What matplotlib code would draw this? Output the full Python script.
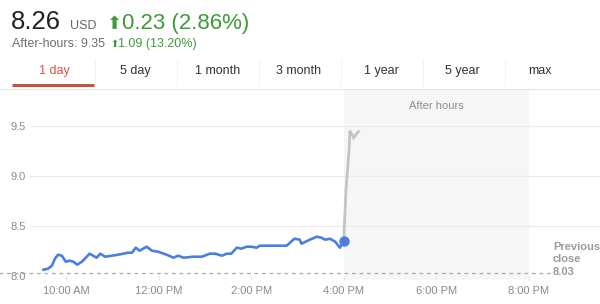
#!/usr/bin/env python3
# -*- coding: utf-8 -*-

import matplotlib as mpl
mpl.use("Agg")
from matplotlib import pyplot as plt

plt.rcParams["font.family"] = ["Liberation Sans", "DejaVu Sans"]

# - data
# regular session (clock time, price)
day_times = [
    "09:30", "09:36", "09:41", "09:45", "09:49", "09:54", "09:59", "10:04",
    "10:09", "10:14", "10:20", "10:30", "10:39", "10:44", "10:50", "10:59",
    "11:07", "11:20", "11:25", "11:30", "11:35", "11:44", "11:51", "11:59",
    "12:10", "12:19", "12:25", "12:32", "12:45", "12:56", "13:06", "13:13",
    "13:22", "13:28", "13:34", "13:41", "13:47", "13:54", "14:00", "14:07",
    "14:11", "14:46", "14:56", "15:03", "15:05", "15:16", "15:25", "15:31",
    "15:36", "15:42", "15:49", "15:55", "16:00",
]
day_prices = [
    8.06, 8.07, 8.10, 8.17, 8.21, 8.20, 8.14, 8.15,
    8.14, 8.11, 8.14, 8.22, 8.18, 8.22, 8.19, 8.20,
    8.21, 8.23, 8.23, 8.28, 8.25, 8.29, 8.25, 8.24,
    8.21, 8.18, 8.20, 8.18, 8.19, 8.19, 8.22, 8.22,
    8.20, 8.22, 8.22, 8.28, 8.27, 8.29, 8.29, 8.28,
    8.30, 8.30, 8.37, 8.36, 8.32, 8.36, 8.39, 8.38,
    8.36, 8.37, 8.34, 8.28, 8.35,
]
# after-hours trading
ah_times = ["16:00", "16:03", "16:07", "16:08", "16:13", "16:19"]
ah_prices = [8.35, 8.86, 9.26, 9.45, 9.38, 9.44]

prev_close = 8.03
y_ticks = [8.0, 8.5, 9.0, 9.5]
x_ticks = [10, 12, 14, 16, 18, 20]
x_labels = ["10:00 AM", "12:00 PM", "2:00 PM", "4:00 PM", "6:00 PM", "8:00 PM"]
tabs = ["1 day", "5 day", "1 month", "3 month", "1 year", "5 year", "max"]

price, unit = "8.26", "USD"
change = "0.23 (2.86%)"
ah_label = "After-hours: 9.35"
ah_change = "1.09 (13.20%)"


def to_hours(times):
    return [int(t[:2]) + int(t[3:]) / 60 for t in times]


W, H = 600, 304


def px(x, y):
    return x / W, 1 - y / H


GREEN = "#3f9a3a"
BLUE = "#4a7fe0"
GREY_TXT = "#8a8a8a"

fig = plt.figure(figsize=(6.0, 3.04), dpi=100)

# -- header
fig.text(*px(11, 29), price, fontsize=18.5, color="#222222", va="baseline")
fig.text(*px(70, 29), unit, fontsize=9, color="#666666", va="baseline")
fig.text(*px(107, 29), "\u2b06", fontsize=13, color=GREEN, va="baseline",
         family=["DejaVu Sans"])
fig.text(*px(122, 29), change, fontsize=16, color=GREEN, va="baseline")
fig.text(*px(12, 47), ah_label, fontsize=9, color="#6f6f6f", va="baseline")
fig.text(*px(110, 47), "\u2b06", fontsize=7, color=GREEN, va="baseline",
         family=["DejaVu Sans"])
fig.text(*px(118, 47), ah_change, fontsize=9, color=GREEN, va="baseline")

# -- tabs
tab_centers = [54, 135, 218, 299, 381, 462, 540]
for name, cx in zip(tabs, tab_centers):
    color = "#d9533f" if name == "1 day" else "#333333"
    fig.text(*px(cx, 71), name, fontsize=9, color=color, ha="center", va="center")
for sx in [95, 177, 259, 341, 423, 505]:
    fig.add_artist(plt.Line2D([sx / W] * 2, [1 - 60 / H, 1 - 86 / H],
                              color="#f3f3f3", lw=0.8))
fig.add_artist(plt.Line2D([0, 1], [1 - 88.5 / H] * 2, color="#e6e6e6", lw=0.8))
fig.add_artist(plt.Line2D([12 / W, 94 / W], [1 - 85 / H] * 2,
                          color="#c6553f", lw=2.2, solid_capstyle="butt"))

# -- chart
ax_left, ax_right, ax_top, ax_bottom = 30, 600, 89, 280
ax = fig.add_axes([ax_left / W, 1 - ax_bottom / H,
                   (ax_right - ax_left) / W, (ax_bottom - ax_top) / H])
x_per_px = 1 / 46.2
y_per_px = 0.5 / 50
ax.set_xlim(10 - (66.5 - ax_left) * x_per_px, 10 + (ax_right - 66.5) * x_per_px)
ax.set_ylim(8.0 - (ax_bottom - 275.7) * y_per_px, 8.0 + (275.7 - ax_top) * y_per_px)
for s in ax.spines.values():
    s.set_visible(False)

ax.axvspan(16, 20, color="#f6f6f6", lw=0, zorder=0)
for yv in y_ticks[1:]:
    ax.axhline(yv, color="#ebebeb", lw=0.8, zorder=1)
ax.axhline(prev_close, xmin=-0.06, xmax=(552 - ax_left) / (ax_right - ax_left),
           color="#a8a8a8", lw=0.9, ls=(0, (3, 3)), zorder=2, clip_on=False)

ax.plot(to_hours(ah_times), ah_prices, color="#c4c4c4", lw=2.0, zorder=3,
        solid_joinstyle="miter")
ax.plot(to_hours(day_times), day_prices, color=BLUE, lw=1.9, zorder=4,
        solid_joinstyle="round")
ax.plot(to_hours(day_times)[-1:], day_prices[-1:], "o", color=BLUE, ms=6.5,
        zorder=5)

ax.text(18, 9.70, "After hours", fontsize=8, color="#8c8c8c",
        ha="center", va="center")
ax.text(10 + (553 - 66.5) * x_per_px, 8.0 + (275.7 - 259.5) * y_per_px,
        "Previous\nclose\n" + f"{prev_close:.2f}", fontsize=8, color="#9a9a9a",
        fontweight="bold", ha="left", va="center", linespacing=1.35)

ax.set_yticks(y_ticks)
ax.set_yticklabels([f"{v:.1f}" for v in y_ticks], fontsize=8, color=GREY_TXT)
ax.set_xticks(x_ticks)
ax.set_xticklabels(x_labels, fontsize=8, color=GREY_TXT)
ax.tick_params(axis="y", length=0, pad=3)
ax.tick_params(axis="x", direction="in", length=3, width=0.6, color="#dddddd",
               pad=4)

plt.savefig("out.png", dpi=100)
plt.close()
